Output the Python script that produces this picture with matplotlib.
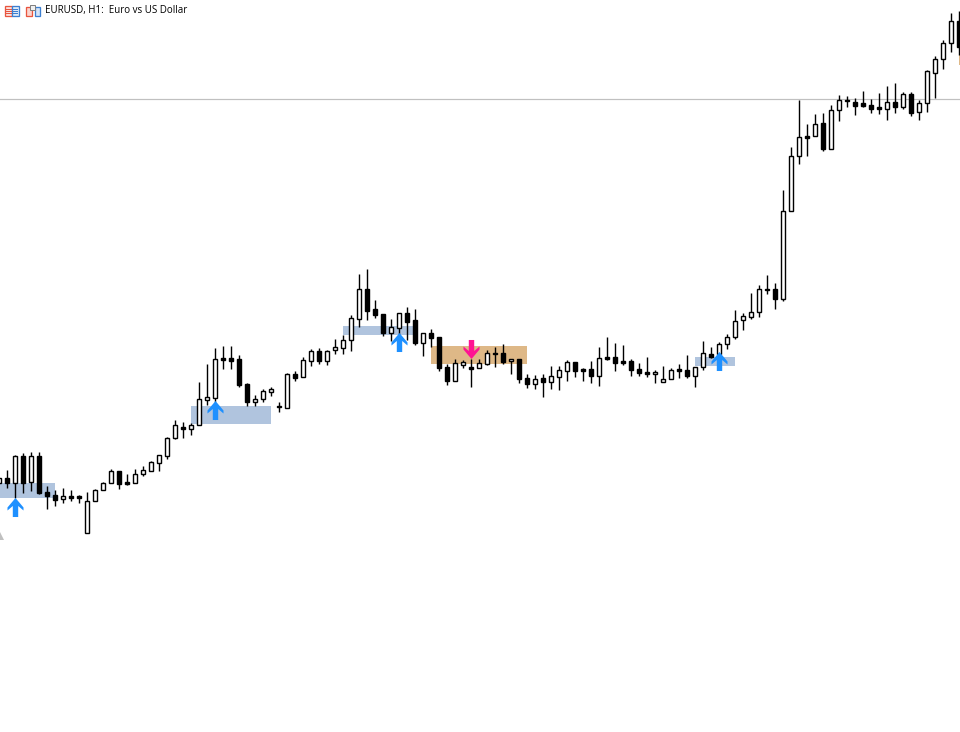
import matplotlib
matplotlib.use("Agg")
import matplotlib.pyplot as plt
from matplotlib.path import Path

body_tops = [
    478, 478, 456, 456, 456, 456, 492, 495, 496, 496,
    496, 501, 490, 483, 471, 471, 482, 474, 470, 462,
    455, 438, 425, 427, 425, 399, 397, 359, 358, 358,
    359, 384, 399, 391, 389, 406, 374, 374, 360, 351,
    351, 351, 347, 340, 318, 289, 289, 309, 314, 327,
    313, 313, 320, 333, 333, 337, 367, 363, 362, 367,
    363, 353, 353, 353, 359, 359, 378, 379, 378, 376,
    370, 362, 362, 369, 369, 358, 357, 357, 361, 361,
    369, 372, 372, 379, 370, 369, 370, 367, 353, 354,
    344, 337, 321, 316, 312, 289, 289, 289, 211, 156,
    137, 136, 124, 123, 110, 100, 100, 102, 103, 105,
    107, 102, 102, 94, 94, 103, 71, 59, 43, 21, 21,
]
body_bottoms = [
    483, 483, 483, 483, 482, 493, 496, 500, 499, 498,
    498, 533, 501, 490, 483, 484, 484, 483, 474, 471,
    463, 456, 438, 429, 429, 425, 400, 398, 360, 361,
    385, 402, 402, 399, 392, 407, 408, 378, 377, 361,
    361, 361, 350, 348, 340, 319, 311, 315, 333, 333,
    328, 322, 343, 343, 338, 368, 381, 381, 365, 369,
    368, 364, 354, 362, 361, 379, 384, 384, 382, 382,
    377, 371, 371, 371, 376, 376, 359, 363, 363, 370,
    373, 374, 374, 382, 379, 371, 376, 376, 367, 357,
    354, 344, 337, 320, 317, 312, 290, 299, 299, 211,
    156, 138, 136, 149, 149, 110, 101, 106, 106, 109,
    109, 109, 107, 107, 113, 112, 103, 73, 59, 43, 47,
]
highs = [
    477, 470, 455, 453, 452, 452, 486, 490, 488, 490,
    495, 492, 489, 482, 469, 471, 474, 469, 466, 461,
    455, 437, 420, 422, 423, 382, 364, 348, 346, 346,
    355, 383, 395, 389, 387, 402, 373, 371, 357, 349,
    348, 350, 339, 335, 315, 274, 269, 300, 314, 319,
    313, 307, 309, 333, 329, 337, 364, 359, 360, 359,
    359, 350, 347, 344, 359, 359, 374, 375, 374, 366,
    366, 360, 362, 368, 361, 347, 337, 343, 345, 359,
    363, 357, 370, 366, 368, 364, 355, 367, 341, 347,
    342, 334, 310, 313, 293, 285, 275, 283, 190, 147,
    100, 124, 114, 113, 105, 95, 96, 98, 91, 99,
    93, 86, 83, 92, 92, 100, 70, 56, 40, 13, 11,
]
lows = [
    484, 488, 498, 493, 491, 494, 509, 506, 503, 501,
    503, 533, 501, 490, 483, 489, 485, 483, 476, 471,
    471, 459, 439, 438, 435, 425, 405, 402, 369, 369,
    387, 406, 406, 402, 396, 412, 408, 381, 377, 366,
    364, 365, 354, 354, 351, 327, 320, 318, 336, 341,
    335, 340, 345, 356, 347, 371, 385, 381, 368, 387,
    368, 365, 367, 364, 374, 383, 388, 389, 397, 389,
    390, 381, 377, 381, 383, 386, 360, 371, 365, 376,
    376, 377, 383, 382, 379, 378, 378, 387, 370, 358,
    354, 349, 339, 330, 319, 317, 294, 309, 301, 211,
    164, 156, 136, 151, 149, 121, 107, 115, 107, 113,
    114, 120, 113, 109, 116, 120, 112, 98, 69, 52, 55,
]
is_down = [
    0, 1, 0, 1, 0, 1, 1, 1, 0, 1,
    1, 0, 0, 0, 0, 1, 1, 0, 0, 0,
    0, 0, 0, 1, 0, 0, 0, 0, 1, 1,
    1, 1, 0, 0, 0, 1, 0, 1, 0, 0,
    1, 0, 0, 0, 0, 0, 1, 1, 1, 0,
    0, 1, 1, 0, 1, 1, 1, 0, 0, 1,
    0, 0, 1, 1, 0, 1, 1, 0, 1, 0,
    0, 0, 1, 1, 1, 0, 1, 1, 1, 1,
    1, 1, 0, 0, 0, 1, 1, 0, 0, 1,
    0, 0, 0, 0, 0, 0, 1, 1, 0, 0,
    0, 1, 0, 1, 0, 0, 1, 1, 1, 1,
    1, 0, 1, 0, 1, 0, 0, 0, 0, 0, 1,
]

# zones: first bar, last bar, top row, bottom row
demand_zones = [(0, 7, 483, 498), (24, 34, 406, 424), (43, 52, 326, 335), (87, 92, 357, 366)]
supply_zones = [(54, 66, 346, 364), (120, 121, 55, 65)]

up_arrow_bars = [2, 27, 50, 90]
up_arrow_levels = [507.5, 410.5, 342.5, 361]
down_arrow_bars = [59]
down_arrow_levels = [349.5]

level_line = 99.5
title = "EURUSD, H1:  Euro vs US Dollar"

CANDLE = "#000000"
ZONE_BLUE = "#b0c4de"
ZONE_TAN = "#deb887"
ARROW_BLUE = "#1e90ff"
ARROW_PINK = "#ff1493"
ICON_RED = "#e8553f"
ICON_BLUE = "#3c7fd0"
PX = 0.72  # one pixel in points at 100 dpi

up_arrow = Path(
    [(0, 9.5), (8, 0), (8, -3), (2.7, 1.5), (2.7, -9.5), (-2.7, -9.5), (-2.7, 1.5), (-8, -3), (-8, 0), (0, 9.5)],
    closed=True,
)
down_arrow = Path(up_arrow.vertices * [1, -1], closed=True)

fig = plt.figure(figsize=(9.6, 7.32), dpi=100, facecolor="white")
ax = fig.add_axes([0, 0, 1, 1])
ax.set_xlim(0.1875, 120.1875)
ax.set_ylim(732.5, 0.5)
ax.axis("off")

ax.axhline(level_line, color="#c0c0c0", lw=PX * 1.2, zorder=1)

# zones sit behind the candles
for start, end, top, bottom in demand_zones:
    ax.fill_between([start, end], top, bottom, color=ZONE_BLUE, lw=0, zorder=1)
for start, end, top, bottom in supply_zones:
    ax.fill_between([start, end], top, bottom, color=ZONE_TAN, lw=0, zorder=1)

bars = list(range(len(body_tops)))
ax.vlines(bars, highs, lows, color=CANDLE, lw=PX * 1.4, zorder=2)
heights = [b - t for t, b in zip(body_tops, body_bottoms)]
colors = [CANDLE if d else "white" for d in is_down]
ax.bar(bars, heights, bottom=body_tops, width=0.5, color=colors, edgecolor=CANDLE, linewidth=PX * 1.4, zorder=3)

ax.plot(up_arrow_bars, up_arrow_levels, ls="none", marker=up_arrow, ms=13.7, mfc=ARROW_BLUE, mew=0, zorder=4)
ax.plot(down_arrow_bars, down_arrow_levels, ls="none", marker=down_arrow, ms=13.7, mfc=ARROW_PINK, mew=0, zorder=4)

# small grey marker cut off by the bottom left corner
ax.plot([0.1875], [536.5], ls="none", marker="^", ms=6, mfc="#c0c0c0", mew=0, zorder=2, clip_on=True)

# header icons and symbol name, in pixels
head = fig.add_axes([0, 0, 1, 1], facecolor="none")
head.set_xlim(0, 960)
head.set_ylim(732, 0)
head.axis("off")
head.add_patch(plt.Rectangle((4.5, 5.5), 7, 10, fc="#fbe3df", ec=ICON_RED, lw=PX * 1.3))
head.add_patch(plt.Rectangle((11.5, 5.5), 7, 10, fc="#dfeaf8", ec=ICON_BLUE, lw=PX * 1.3))
for row in (8.5, 10.5, 12.5):
    head.plot([6, 11], [row, row], color=ICON_RED, lw=PX)
    head.plot([12, 17], [row, row], color=ICON_BLUE, lw=PX)
head.add_patch(plt.Rectangle((25.5, 6.5), 6, 9, fc="#fbd5cf", ec=ICON_RED, lw=PX * 1.3))
head.add_patch(plt.Rectangle((34.5, 6.5), 5, 9, fc="#d5e5f8", ec=ICON_BLUE, lw=PX * 1.3))
head.add_patch(plt.Rectangle((29.5, 4.5), 5, 5, fc="#f0f0f0", ec="#808080", lw=PX))
head.text(45, 10.5, title, fontsize=7.0, family="Open Sans", color="black", ha="left", va="center")

fig.savefig("out.png", dpi=100)
